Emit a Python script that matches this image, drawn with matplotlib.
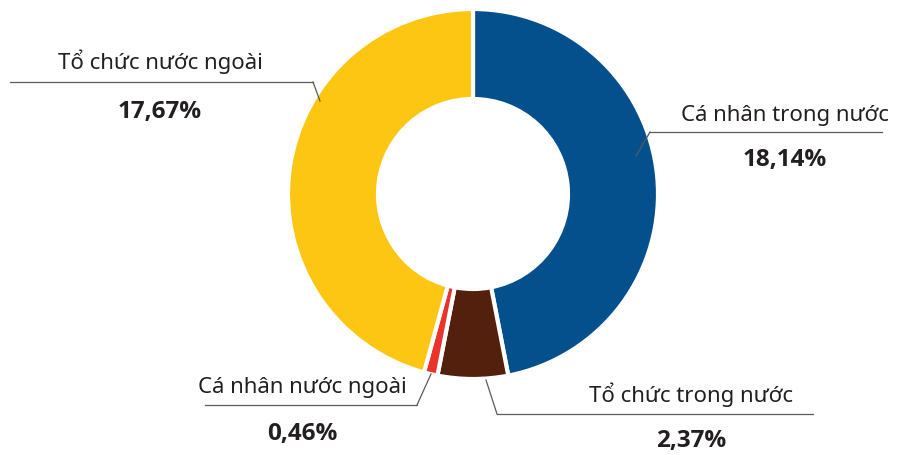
import matplotlib
matplotlib.use("Agg")
import matplotlib.pyplot as plt

plt.rcParams['font.family'] = ['Noto Sans', 'DejaVu Sans']

labels = ['Cá nhân trong nước', 'Tổ chức trong nước', 'Cá nhân nước ngoài', 'Tổ chức nước ngoài']
values = [18.14, 2.37, 0.46, 17.67]
pct_text = ['18,14%', '2,37%', '0,46%', '17,67%']
colors = ['#04508c', '#52200c', '#e8342a', '#fcc612']

W, H = 897, 455

def fy(y):
    # picture rows -> axis units
    return H - y

# text centre x, text y, line y, line x range, elbow, end point, percent y
label_layout = [
    (785, 115, 132, (650, 882), (650, 132), (636, 156), 160),
    (691, 395, 414, (497, 813), (497, 414), (486, 380), 441),
    (302, 387, 405, (205, 417), (417, 405), (431, 374), 434),
    (160, 62, 82, (10, 313), (313, 82), (320, 101), 112),
]

fig = plt.figure(figsize=(W / 100, H / 100), dpi=100)
ax = fig.add_axes([0, 0, 1, 1])

ax.pie(values, colors=colors, startangle=90, counterclock=False,
       center=(473, fy(194)), radius=185,
       wedgeprops=dict(width=90, edgecolor='white', linewidth=3))

for lab, pct, (tx, ty, ly, (x0, x1), elb, end, py) in zip(labels, pct_text, label_layout):
    ax.plot([x0, x1], [fy(ly), fy(ly)], color='#5a5a5a', lw=0.9)
    ax.plot([elb[0], end[0]], [fy(elb[1]), fy(end[1])], color='#5a5a5a', lw=0.9)
    ax.text(tx, fy(ty), lab, ha='center', va='center', fontsize=16, color='#231f20')
    ax.text(tx, fy(py), pct, ha='center', va='center', fontsize=17.5,
            family=['Open Sans', 'DejaVu Sans'], fontweight='bold', color='#231f20')

ax.set_xlim(0, W)
ax.set_ylim(0, H)
ax.set_aspect('equal')
ax.axis('off')

fig.savefig('out.png', dpi=100, facecolor='white')
